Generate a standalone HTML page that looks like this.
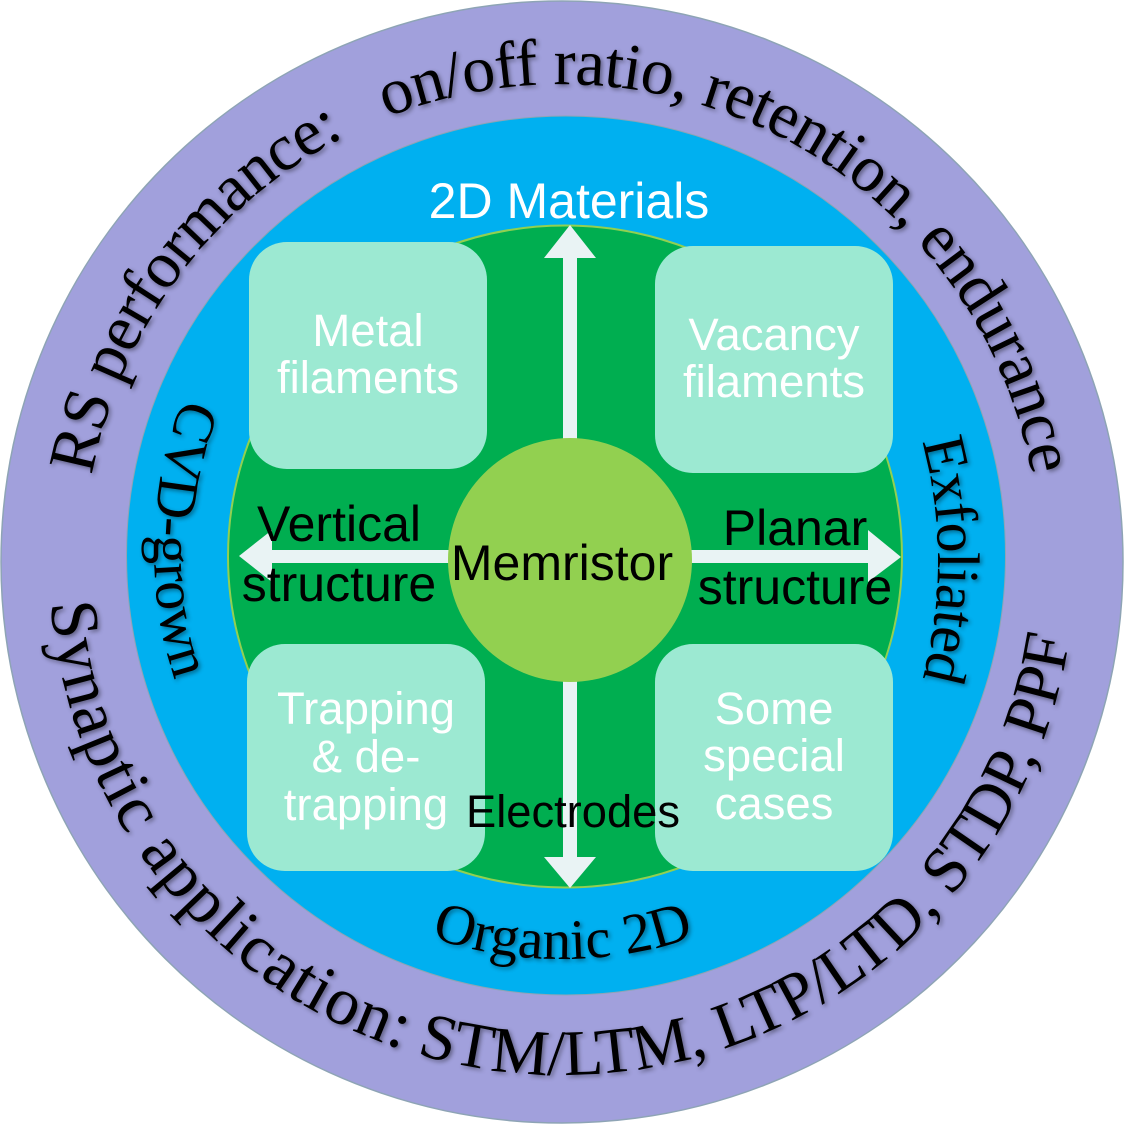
<!DOCTYPE html>
<html><head><meta charset="utf-8"><style>
html,body{margin:0;padding:0;background:#fff}
svg{display:block}
.s{font-family:"Liberation Sans",sans-serif}
.t{font-family:"Liberation Serif",serif;fill:#000;filter:drop-shadow(2px 2px 2px rgba(0,0,0,.4))}
</style></head><body>
<svg width="1124" height="1124" viewBox="0 0 1124 1124" xmlns="http://www.w3.org/2000/svg">
<defs>
<path id="top" d="M84 562A478 478 0 0 1 1040 562"/>
<path id="bot" d="M49 562A513 513 0 0 0 1075 562"/>
<path id="cvd" d="M562 143A408 408 0 1 0 970 551"/>
<path id="exf" d="M482 105A456 456 0 0 1 482 1017"/>
</defs>
<circle cx="562" cy="562" r="561" fill="#a1a0dc" stroke="#8ea4b5" stroke-width="1.500"/>
<circle cx="566" cy="555.500" r="439.500" fill="#00b0f0" stroke="#8ea4b5" stroke-width="1"/>
<ellipse cx="565" cy="556.500" rx="337" ry="331" fill="#00ae50" stroke="#92d050" stroke-width="2"/>
<g fill="#9ce9d2">
<rect x="249" y="242" width="238" height="227" rx="38"/>
<rect x="655" y="246" width="238" height="227" rx="38"/>
<rect x="247" y="644" width="238" height="227" rx="38"/>
<rect x="655" y="644" width="238" height="227" rx="38"/>
</g>
<g fill="#e9f3f4">
<polygon points="570,225 596,258 577,258 577,445 563,445 563,258 544,258"/>
<polygon points="570,888 596,857 577,857 577,675 563,675 563,857 544,857"/>
<polygon points="239,556 272,530 272,550 455,550 455,563 272,563 272,582"/>
<polygon points="901,557 868,530 868,550 685,550 685,563 868,563 868,582"/>
</g>
<circle cx="570" cy="560" r="122" fill="#92d050"/>
<g class="s" font-size="45.500" fill="#fff" text-anchor="middle">
<text x="368" y="346">Metal</text><text x="368" y="393">filaments</text>
<text x="774" y="350">Vacancy</text><text x="774" y="397">filaments</text>
<text x="366" y="724">Trapping</text><text x="366" y="772">&amp; de-</text><text x="366" y="820">trapping</text>
<text x="774" y="724">Some</text><text x="774" y="771">special</text><text x="774" y="819">cases</text>
</g>
<text class="s" x="569" y="218" font-size="50" fill="#fff" text-anchor="middle">2D Materials</text>
<g class="s" font-size="50" fill="#000" text-anchor="middle">
<text x="562" y="580">Memristor</text>
<text x="339" y="541">Vertical</text><text x="339" y="601">structure</text>
<text x="795" y="545">Planar</text><text x="795" y="604">structure</text>
</g>
<text class="s" x="573" y="827" font-size="45.300" fill="#000" text-anchor="middle">Electrodes</text>
<g class="t" font-size="66">
<text xml:space="preserve"><textPath href="#top" startOffset="87" textLength="1327" lengthAdjust="spacing">RS performance:   on/off ratio, retention, endurance</textPath></text>
<text font-size="68"><textPath href="#bot" startOffset="41" textLength="602" lengthAdjust="spacing">Synaptic application:</textPath></text>
<text font-size="65"><textPath href="#bot" startOffset="658" textLength="878" lengthAdjust="spacing">STM/LTM, LTP/LTD, STDP, PPF</textPath></text>
</g>
<g class="t" font-size="58">
<text><textPath href="#cvd" startOffset="484" textLength="288" lengthAdjust="spacing">CVD-grown</textPath></text>
<text font-size="57"><textPath href="#cvd" startOffset="1282" text-anchor="middle" textLength="268" lengthAdjust="spacing">Organic 2D</textPath></text>
<text font-size="60"><textPath href="#exf" startOffset="595" textLength="240" lengthAdjust="spacing">Exfoliated</textPath></text>
</g>
</svg>
</body></html>
